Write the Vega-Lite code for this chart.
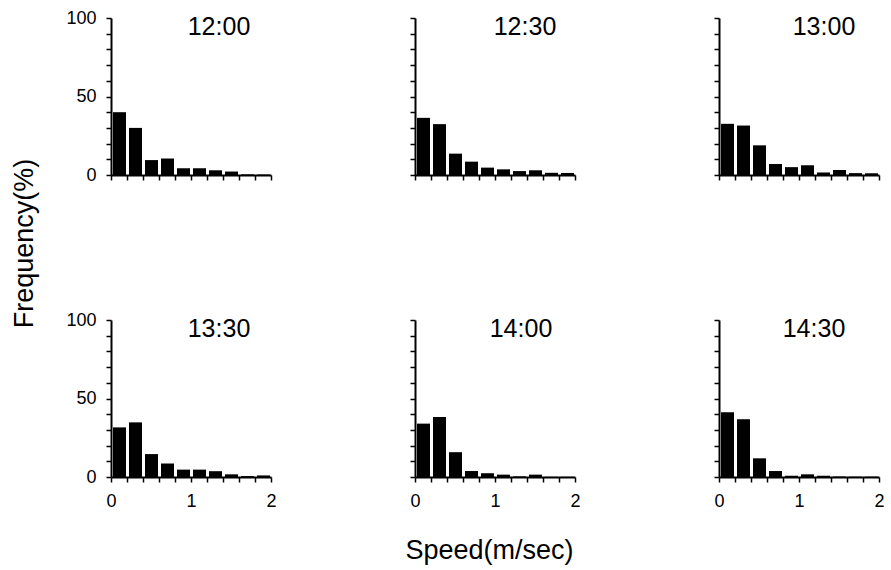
{
  "$schema": "https://vega.github.io/schema/vega-lite/v6.json",
  "padding": {"left": 10, "top": 9, "right": 5, "bottom": 5},
  "background": "white",
  "datasets": {
    "hist": [
      {"time": "12:00", "start": 0.0, "end": 0.2, "freq": 40},
      {"time": "12:00", "start": 0.2, "end": 0.4, "freq": 30},
      {"time": "12:00", "start": 0.4, "end": 0.6, "freq": 9.5},
      {"time": "12:00", "start": 0.6, "end": 0.8, "freq": 10.5},
      {"time": "12:00", "start": 0.8, "end": 1.0, "freq": 4.3},
      {"time": "12:00", "start": 1.0, "end": 1.2, "freq": 4.3},
      {"time": "12:00", "start": 1.2, "end": 1.4, "freq": 3},
      {"time": "12:00", "start": 1.4, "end": 1.6, "freq": 2.2},
      {"time": "12:00", "start": 1.6, "end": 1.8, "freq": 0.4},
      {"time": "12:00", "start": 1.8, "end": 2.0, "freq": 0.3},
      {"time": "12:30", "start": 0.0, "end": 0.2, "freq": 36.4},
      {"time": "12:30", "start": 0.2, "end": 0.4, "freq": 32.4},
      {"time": "12:30", "start": 0.4, "end": 0.6, "freq": 13.6},
      {"time": "12:30", "start": 0.6, "end": 0.8, "freq": 8.5},
      {"time": "12:30", "start": 0.8, "end": 1.0, "freq": 4.7},
      {"time": "12:30", "start": 1.0, "end": 1.2, "freq": 3.6},
      {"time": "12:30", "start": 1.2, "end": 1.4, "freq": 2.5},
      {"time": "12:30", "start": 1.4, "end": 1.6, "freq": 3},
      {"time": "12:30", "start": 1.6, "end": 1.8, "freq": 1.4},
      {"time": "12:30", "start": 1.8, "end": 2.0, "freq": 1.3},
      {"time": "13:00", "start": 0.0, "end": 0.2, "freq": 32.6},
      {"time": "13:00", "start": 0.2, "end": 0.4, "freq": 31.5},
      {"time": "13:00", "start": 0.4, "end": 0.6, "freq": 18.9},
      {"time": "13:00", "start": 0.6, "end": 0.8, "freq": 7},
      {"time": "13:00", "start": 0.8, "end": 1.0, "freq": 5},
      {"time": "13:00", "start": 1.0, "end": 1.2, "freq": 6.2},
      {"time": "13:00", "start": 1.2, "end": 1.4, "freq": 1.6},
      {"time": "13:00", "start": 1.4, "end": 1.6, "freq": 3.2},
      {"time": "13:00", "start": 1.6, "end": 1.8, "freq": 1.2},
      {"time": "13:00", "start": 1.8, "end": 2.0, "freq": 1.1},
      {"time": "13:30", "start": 0.0, "end": 0.2, "freq": 31.6},
      {"time": "13:30", "start": 0.2, "end": 0.4, "freq": 34.8},
      {"time": "13:30", "start": 0.4, "end": 0.6, "freq": 14.6},
      {"time": "13:30", "start": 0.6, "end": 0.8, "freq": 8.6},
      {"time": "13:30", "start": 0.8, "end": 1.0, "freq": 4.7},
      {"time": "13:30", "start": 1.0, "end": 1.2, "freq": 4.7},
      {"time": "13:30", "start": 1.2, "end": 1.4, "freq": 3.7},
      {"time": "13:30", "start": 1.4, "end": 1.6, "freq": 1.7},
      {"time": "13:30", "start": 1.6, "end": 1.8, "freq": 0.6},
      {"time": "13:30", "start": 1.8, "end": 2.0, "freq": 1},
      {"time": "14:00", "start": 0.0, "end": 0.2, "freq": 34},
      {"time": "14:00", "start": 0.2, "end": 0.4, "freq": 38.2},
      {"time": "14:00", "start": 0.4, "end": 0.6, "freq": 15.8},
      {"time": "14:00", "start": 0.6, "end": 0.8, "freq": 3.8},
      {"time": "14:00", "start": 0.8, "end": 1.0, "freq": 2.4},
      {"time": "14:00", "start": 1.0, "end": 1.2, "freq": 1.5},
      {"time": "14:00", "start": 1.2, "end": 1.4, "freq": 0.4},
      {"time": "14:00", "start": 1.4, "end": 1.6, "freq": 1.5},
      {"time": "14:00", "start": 1.6, "end": 1.8, "freq": 0.1},
      {"time": "14:00", "start": 1.8, "end": 2.0, "freq": 0.1},
      {"time": "14:30", "start": 0.0, "end": 0.2, "freq": 41.2},
      {"time": "14:30", "start": 0.2, "end": 0.4, "freq": 36.8},
      {"time": "14:30", "start": 0.4, "end": 0.6, "freq": 11.9},
      {"time": "14:30", "start": 0.6, "end": 0.8, "freq": 3.8},
      {"time": "14:30", "start": 0.8, "end": 1.0, "freq": 0.8},
      {"time": "14:30", "start": 1.0, "end": 1.2, "freq": 1.7},
      {"time": "14:30", "start": 1.2, "end": 1.4, "freq": 0.8},
      {"time": "14:30", "start": 1.4, "end": 1.6, "freq": 0.3},
      {"time": "14:30", "start": 1.6, "end": 1.8, "freq": 0.2},
      {"time": "14:30", "start": 1.8, "end": 2.0, "freq": 0.2}
    ]
  },
  "data": {"name": "hist"},
  "columns": 3,
  "spacing": {"row": 145, "column": 144},
  "bounds": "flush",
  "concat": [
    {
      "width": 160, "height": 157,
      "title": {"text": "12:00", "frame": "group", "anchor": "middle", "dx": 28, "dy": 27, "offset": -16, "baseline": "middle"},
      "transform": [{"filter": "datum.time == '12:00'"}],
      "mark": {"type": "bar", "color": "black"},
      "encoding": {
        "x": {"field": "start", "type": "quantitative", "bin": "binned", "scale": {"domain": [0, 2]},
              "axis": {"labels": false, "title": null, "values": [0, 0.2, 0.4, 0.6, 0.8, 1, 1.2, 1.4, 1.6, 1.8, 2]}},
        "x2": {"field": "end"},
        "y": {"field": "freq", "type": "quantitative", "scale": {"domain": [0, 100]},
              "axis": {"values": [0, 10, 20, 30, 40, 50, 60, 70, 80, 90, 100], "labelExpr": "datum.value % 50 == 0 ? datum.label : ''",
                       "title": "Frequency(%)", "titleAngle": -90, "titleX": -79, "titleY": 225, "titleAlign": "center", "titleBaseline": "alphabetic"}}
      }
    },
    {
      "width": 160, "height": 157,
      "title": {"text": "12:30", "frame": "group", "anchor": "middle", "dx": 30, "dy": 27, "offset": -8, "baseline": "middle"},
      "transform": [{"filter": "datum.time == '12:30'"}],
      "mark": {"type": "bar", "color": "black"},
      "encoding": {
        "x": {"field": "start", "type": "quantitative", "bin": "binned", "scale": {"domain": [0, 2]},
              "axis": {"labels": false, "title": null, "values": [0, 0.2, 0.4, 0.6, 0.8, 1, 1.2, 1.4, 1.6, 1.8, 2]}},
        "x2": {"field": "end"},
        "y": {"field": "freq", "type": "quantitative", "scale": {"domain": [0, 100]},
              "axis": {"values": [0, 10, 20, 30, 40, 50, 60, 70, 80, 90, 100], "labels": false, "title": null}}
      }
    },
    {
      "width": 160, "height": 157,
      "title": {"text": "13:00", "frame": "group", "anchor": "middle", "dx": 25, "dy": 27, "offset": -8, "baseline": "middle"},
      "transform": [{"filter": "datum.time == '13:00'"}],
      "mark": {"type": "bar", "color": "black"},
      "encoding": {
        "x": {"field": "start", "type": "quantitative", "bin": "binned", "scale": {"domain": [0, 2]},
              "axis": {"labels": false, "title": null, "values": [0, 0.2, 0.4, 0.6, 0.8, 1, 1.2, 1.4, 1.6, 1.8, 2]}},
        "x2": {"field": "end"},
        "y": {"field": "freq", "type": "quantitative", "scale": {"domain": [0, 100]},
              "axis": {"values": [0, 10, 20, 30, 40, 50, 60, 70, 80, 90, 100], "labels": false, "title": null}}
      }
    },
    {
      "width": 160, "height": 157,
      "title": {"text": "13:30", "frame": "group", "anchor": "middle", "dx": 28, "dy": 27, "offset": -16, "baseline": "middle"},
      "transform": [{"filter": "datum.time == '13:30'"}],
      "mark": {"type": "bar", "color": "black"},
      "encoding": {
        "x": {"field": "start", "type": "quantitative", "bin": "binned", "scale": {"domain": [0, 2]},
              "axis": {"title": null, "values": [0, 0.2, 0.4, 0.6, 0.8, 1, 1.2, 1.4, 1.6, 1.8, 2], "labelExpr": "datum.value % 1 == 0 ? format(datum.value, 'd') : ''"}},
        "x2": {"field": "end"},
        "y": {"field": "freq", "type": "quantitative", "scale": {"domain": [0, 100]},
              "axis": {"values": [0, 10, 20, 30, 40, 50, 60, 70, 80, 90, 100], "labelExpr": "datum.value % 50 == 0 ? datum.label : ''", "title": null}}
      }
    },
    {
      "width": 160, "height": 157,
      "title": {"text": "14:00", "frame": "group", "anchor": "middle", "dx": 26, "dy": 27, "offset": -8, "baseline": "middle"},
      "transform": [{"filter": "datum.time == '14:00'"}],
      "mark": {"type": "bar", "color": "black"},
      "encoding": {
        "x": {"field": "start", "type": "quantitative", "bin": "binned", "scale": {"domain": [0, 2]},
              "axis": {"values": [0, 0.2, 0.4, 0.6, 0.8, 1, 1.2, 1.4, 1.6, 1.8, 2], "labelExpr": "datum.value % 1 == 0 ? format(datum.value, 'd') : ''",
                       "title": "Speed(m/sec)", "titleX": 74, "titleY": 81, "titleAlign": "center", "titleBaseline": "alphabetic"}},
        "x2": {"field": "end"},
        "y": {"field": "freq", "type": "quantitative", "scale": {"domain": [0, 100]},
              "axis": {"values": [0, 10, 20, 30, 40, 50, 60, 70, 80, 90, 100], "labels": false, "title": null}}
      }
    },
    {
      "width": 160, "height": 157,
      "title": {"text": "14:30", "frame": "group", "anchor": "middle", "dx": 15, "dy": 27, "offset": -8, "baseline": "middle"},
      "transform": [{"filter": "datum.time == '14:30'"}],
      "mark": {"type": "bar", "color": "black"},
      "encoding": {
        "x": {"field": "start", "type": "quantitative", "bin": "binned", "scale": {"domain": [0, 2]},
              "axis": {"title": null, "values": [0, 0.2, 0.4, 0.6, 0.8, 1, 1.2, 1.4, 1.6, 1.8, 2], "labelExpr": "datum.value % 1 == 0 ? format(datum.value, 'd') : ''"}},
        "x2": {"field": "end"},
        "y": {"field": "freq", "type": "quantitative", "scale": {"domain": [0, 100]},
              "axis": {"values": [0, 10, 20, 30, 40, 50, 60, 70, 80, 90, 100], "labels": false, "title": null}}
      }
    }
  ],
  "config": {
    "view": {"stroke": null},
    "bar": {"binSpacing": 3},
    "font": "Liberation Sans",
    "title": {"font": "Liberation Sans", "fontSize": 25, "fontWeight": "normal", "color": "black"},
    "axis": {
      "grid": false,
      "domainColor": "black",
      "domainWidth": 2,
      "tickColor": "black",
      "tickWidth": 1.5,
      "tickSize": 5,
      "labelFont": "Liberation Sans",
      "labelFontSize": 18,
      "labelColor": "black",
      "labelPadding": 10,
      "labelOverlap": false,
      "labelFlush": false,
      "titleFont": "Liberation Sans",
      "titleFontSize": 27,
      "titleFontWeight": "normal",
      "titleColor": "black"
    }
  }
}
